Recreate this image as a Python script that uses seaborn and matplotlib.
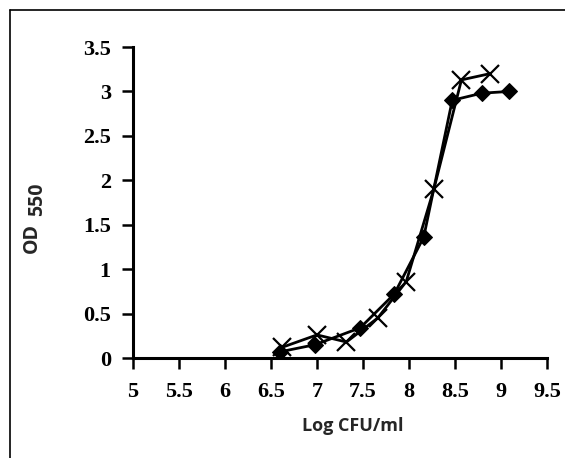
import seaborn as sns
import matplotlib.pyplot as plt
from matplotlib.lines import Line2D
import pandas as pd

# series
log_cfu_a = [6.6, 6.98, 7.47, 7.84, 8.16, 8.47, 8.79, 9.09]
od_a = [0.07, 0.15, 0.34, 0.72, 1.36, 2.9, 2.98, 3.0]
log_cfu_b = [6.62, 7.0, 7.32, 7.66, 7.97, 8.27, 8.57, 8.88]
od_b = [0.12, 0.26, 0.18, 0.45, 0.86, 1.9, 3.13, 3.2]

xticks = [5, 5.5, 6, 6.5, 7, 7.5, 8, 8.5, 9, 9.5]
yticks = [0, 0.5, 1, 1.5, 2, 2.5, 3, 3.5]
xtick_labels = ['5', '5.5', '6', '6.5', '7', '7.5', '8', '8.5', '9', '9.5']
ytick_labels = ['0', '0.5', '1', '1.5', '2', '2.5', '3', '3.5']

df_a = pd.DataFrame({'x': log_cfu_a, 'y': od_a})
df_b = pd.DataFrame({'x': log_cfu_b, 'y': od_b})

sns.set_style('ticks')
plt.rcParams['font.family'] = ['Liberation Serif', 'DejaVu Serif']
sans = ['Open Sans', 'DejaVu Sans']

W, H = 565, 458
fig = plt.figure(figsize=(W / 100, H / 100), dpi=100)
ax = fig.add_axes([133 / W, 1 - 358 / H, (547 - 133) / W, (358 - 47) / H])

sns.lineplot(data=df_a, x='x', y='y', sort=False, ax=ax, color='black',
             linewidth=2, marker='D', markersize=8, markeredgecolor='black',
             markerfacecolor='black')
sns.lineplot(data=df_b, x='x', y='y', sort=False, ax=ax, color='black',
             linewidth=2, marker='x', markersize=13, markeredgewidth=1.6,
             markeredgecolor='black')

ax.set_xlim(5, 9.5)
ax.set_ylim(0, 3.5)
ax.set_xticks(xticks)
ax.set_xticklabels(xtick_labels)
ax.set_yticks(yticks)
ax.set_yticklabels(ytick_labels)
ax.tick_params(axis='both', direction='out', length=8, width=1.8,
               labelsize=16, colors='black')
ax.tick_params(axis='y', pad=8)
ax.tick_params(axis='x', pad=9)
for lab in ax.get_xticklabels() + ax.get_yticklabels():
    lab.set_fontweight('bold')

sns.despine(ax=ax)
for side in ['left', 'bottom']:
    ax.spines[side].set_linewidth(2.2)
    ax.spines[side].set_color('black')

ax.set_xlabel('Log CFU/ml', family=sans, fontsize=13, fontweight='bold')
ax.xaxis.set_label_coords((353 - 133) / (547 - 133), (358 - 417) / (358 - 47))
ax.set_ylabel('')

# y label: OD with a lowered 550 of about the same size
fig.text(31.5 / W, 1 - 238 / H, 'OD', family=sans, fontsize=14,
         fontweight='bold', rotation=90, ha='center', va='center')
fig.text(37.5 / W, 1 - 199 / H, '550', family=sans, fontsize=14,
         fontweight='bold', rotation=90, ha='center', va='center')

# outer frame (top and left edges only, as in the reference)
fig.add_artist(Line2D([10 / W, 1.0], [1 - 10 / H, 1 - 10 / H],
                      color='black', linewidth=1.2, transform=fig.transFigure))
fig.add_artist(Line2D([10 / W, 10 / W], [1 - 10 / H, 0.0],
                      color='black', linewidth=1.2, transform=fig.transFigure))

fig.savefig('out.png', dpi=100)
